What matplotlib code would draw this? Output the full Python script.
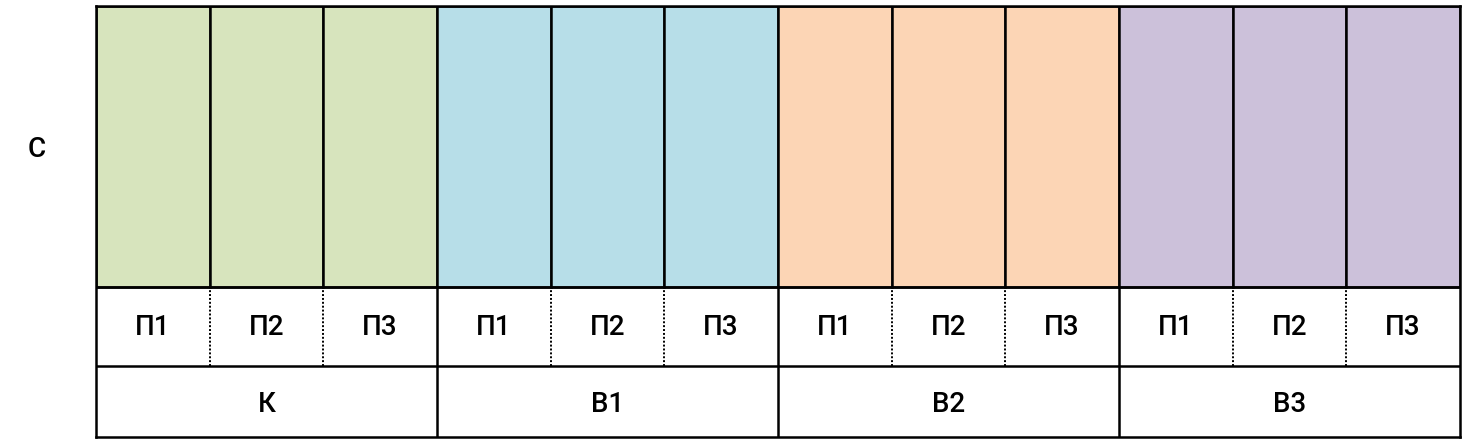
import numpy as np
import matplotlib.pyplot as plt

plt.rcParams['font.family'] = ['Roboto', 'DejaVu Sans']

# data
groups = ['К', 'В1', 'В2', 'В3']
parts = ['П1', 'П2', 'П3']
series_label = 'С'
values = [1, 1, 1, 1, 1, 1, 1, 1, 1, 1, 1, 1]
group_colors = ['#D7E4BD', '#B7DEE8', '#FCD5B5', '#CCC1DA']

n_parts = len(parts)
n = len(groups) * n_parts
x = np.arange(n)
colors = [group_colors[i // n_parts] for i in range(n)]

fig = plt.figure(figsize=(14.68, 4.45), dpi=100)
W, H = 1468, 445
left, right, top, bottom = 96, 1460, 6, 437
bar_bottom, row_line = 287, 366
ax = fig.add_axes([left / W, 1 - bottom / H, (right - left) / W, (bottom - top) / H])

scale = bar_bottom - top
y_row = -(row_line - bar_bottom) / scale
y_min = -(bottom - bar_bottom) / scale

ax.bar(x, values, width=1.0, bottom=0, color=colors, edgecolor='black', linewidth=1.8)
ax.set_xlim(-0.5, n - 0.5)
ax.set_ylim(y_min, 1)

lw = 1.8
ax.axhline(0, color='black', lw=lw)
ax.axhline(y_row, color='black', lw=lw)

# separators in the category rows
for i in range(1, n):
    xb = i - 0.5
    if i % n_parts == 0:
        ax.plot([xb, xb], [y_min, 0], color='black', lw=lw, solid_capstyle='butt')
    else:
        ax.plot([xb, xb], [y_row, 0], color='black', lw=1.4, ls=(0, (1, 1)))

fs = 20
# part labels
for i in range(n):
    ax.text(x[i], y_row / 2 - 0.004, parts[i % n_parts], ha='center', va='center',
            fontsize=fs, fontweight='medium')
# group labels
for g, name in enumerate(groups):
    ax.text(g * n_parts + (n_parts - 1) / 2, (y_row + y_min) / 2 - 0.012, name,
            ha='center', va='center', fontsize=fs, fontweight='medium')

ax.set_xticks([])
ax.set_yticks([0.5])
ax.set_yticklabels([series_label], fontsize=fs, fontweight='medium')
ax.tick_params(axis='y', length=0, pad=36)
for s in ax.spines.values():
    s.set_linewidth(lw)
    s.set_color('black')

fig.savefig('out.png', dpi=100)
